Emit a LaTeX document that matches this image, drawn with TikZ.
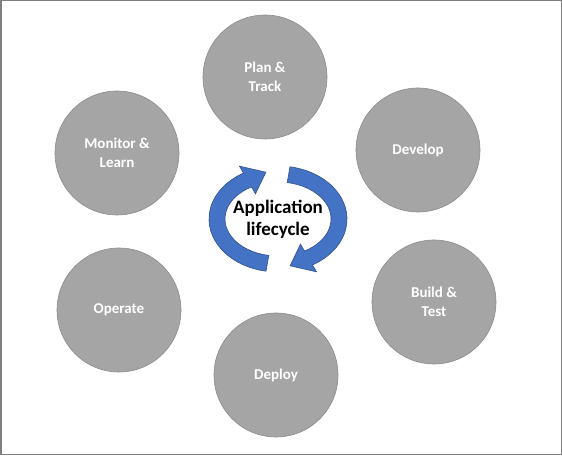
\documentclass[tikz,border=0pt]{standalone}
\usepackage{fontspec}
\setmainfont{Carlito}
\usepackage{tikz}
\usetikzlibrary{calc}
\definecolor{phasegray}{HTML}{A5A5A5}
\definecolor{phaseedge}{HTML}{8C8C8C}
\definecolor{cycleblue}{HTML}{4472C4}
\definecolor{cycleedge}{HTML}{2F528F}
\definecolor{framegray}{HTML}{7F7F7F}

\begin{document}
\begin{tikzpicture}[x=1pt,y=1pt,
  every node/.style={font=\fontsize{15}{19}\selectfont\bfseries},
  phase/.style={circle,fill=phasegray,draw=phaseedge,line width=0.6pt,minimum size=124pt,inner sep=0pt,align=center,text=white},
  cyc/.style={fill=cycleblue,draw=cycleedge,line width=0.6pt}
]
\useasboundingbox (0,0) rectangle (562,455);
\draw[framegray,line width=1.5pt] (0.75,0.75) rectangle (561.25,454.25);

\node[phase] (plan) at (265,378) {Plan \&\\Track};
\node[phase] (develop) at (418,305) {Develop};
\node[phase] (build) at (434,153) {Build \&\\Test};
\node[phase] (deploy) at (276,80) {Deploy};
\node[phase] (operate) at (119,145) {Operate};
\node[phase] (monitor) at (117,302) {Monitor \&\\Learn};

% two block arrows round the hub
\coordinate (hub) at (278,236);
\foreach \turn in {0,180}{
  \begin{scope}[shift={(hub)},rotate=\turn]
    \filldraw[cyc] (260:69 and 53) arc[start angle=260,end angle=120,x radius=69,y radius=53]
      -- (120:77 and 61) -- (-12.1,46.8) -- (120:45 and 29) -- (120:53 and 37)
      arc[start angle=120,end angle=260,x radius=53,y radius=37] -- cycle;
  \end{scope}
}
\node[font=\fontsize{19}{22}\selectfont\bfseries,align=center] (life) at (hub) {Application\\lifecycle};
\end{tikzpicture}
\end{document}
